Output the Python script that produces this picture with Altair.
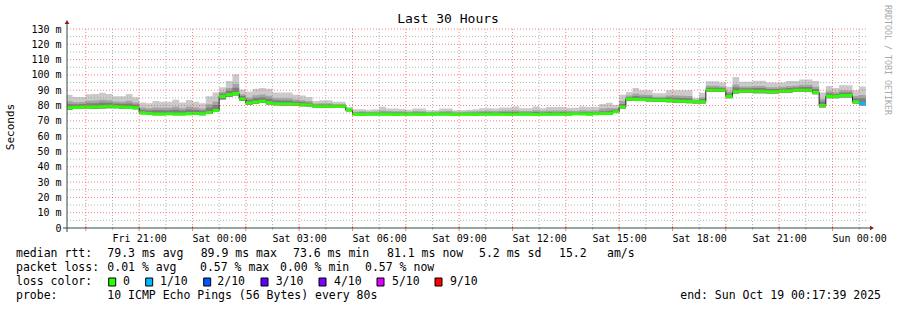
import altair as alt
import pandas as pd

MONO = "DejaVu Sans Mono"

# ---------------- data (15-minute steps, first step starts Fri 18:15) ----------------
median = [
    78.5, 78.8, 79.0, 79.0, 79.0, 79.3, 79.5, 79.3, 79.0, 78.8, 78.5,
    75.3, 74.8, 74.5, 74.5, 74.6, 74.5, 74.5, 74.7, 74.8, 74.6, 75.5, 76.8,
    86.0, 87.0, 87.8, 84.3, 81.6, 82.3, 82.8, 81.8, 81.2, 81.0, 81.0, 80.8, 80.5, 80.3, 79.6, 79.5, 79.5, 79.4, 79.5, 77.0,
    74.3, 74.2, 74.3, 74.3, 74.4, 74.3, 74.2, 74.3, 74.3, 74.3, 74.2, 74.3, 74.4, 74.3, 74.3, 74.2, 74.3, 74.3, 74.2, 74.3,
    74.3, 74.4, 74.3, 74.2, 74.3, 74.4, 74.3, 74.2, 74.3, 74.3, 74.4, 74.3, 74.4, 74.6, 74.5, 74.4, 74.6, 74.8, 74.9, 76.0,
    79.0,
    84.2, 84.0, 84.0, 83.8, 83.5, 83.5, 83.2, 83.0, 82.8, 82.6, 82.5, 82.5,
    90.0, 90.0, 90.0, 86.0, 89.0, 89.5, 89.5, 89.3, 89.3, 89.0, 89.0, 89.5, 89.5, 90.0, 90.0, 90.0, 88.5, 80.0,
    86.0, 86.0, 86.5, 86.5, 82.5, 81.3,
]
ping_min = [
    77.3, 77.8, 78.0, 78.0, 77.8, 78.0, 78.3, 78.2, 77.9, 77.7, 77.5,
    74.3, 73.9, 73.6, 73.7, 73.8, 73.7, 73.6, 73.8, 73.9, 73.7, 74.5, 75.8,
    84.0, 85.5, 86.5, 83.0, 80.5, 81.2, 81.6, 80.7, 80.2, 80.0, 80.0, 79.8, 79.5, 79.3, 78.7, 78.6, 78.6, 78.5, 78.6, 76.2,
    73.6, 73.5, 73.6, 73.6, 73.7, 73.6, 73.5, 73.6, 73.6, 73.6, 73.5, 73.6, 73.7, 73.6, 73.6, 73.5, 73.6, 73.6, 73.5, 73.6,
    73.6, 73.7, 73.6, 73.5, 73.6, 73.7, 73.6, 73.5, 73.6, 73.6, 73.7, 73.6, 73.7, 73.9, 73.8, 73.7, 73.9, 74.1, 74.2, 75.2,
    78.0,
    83.0, 82.9, 82.9, 82.7, 82.4, 82.4, 82.1, 81.9, 81.7, 81.5, 81.4, 81.4,
    88.8, 88.8, 88.8, 84.8, 87.8, 88.3, 88.3, 88.1, 88.1, 87.8, 87.8, 88.3, 88.3, 88.8, 88.8, 88.8, 87.3, 78.8,
    84.8, 84.8, 85.3, 85.3, 81.3, 80.0,
]
ping_p8 = [
    81.0, 80.8, 81.0, 81.5, 81.5, 82.0, 81.9, 81.3, 81.1, 81.4, 80.6,
    77.3, 76.8, 77.1, 76.9, 77.0, 77.3, 76.8, 77.4, 77.1, 76.7, 78.7, 80.3,
    87.8, 89.7, 91.6, 86.2, 83.8, 84.9, 85.4, 84.6, 83.4, 83.3, 83.3, 82.7, 82.3, 81.9, 80.6, 80.7, 80.7, 80.3, 80.4, 77.6,
    75.3, 75.4, 75.3, 75.3, 75.6, 75.5, 75.4, 75.4, 75.3, 75.5, 75.4, 75.2, 75.2, 75.5, 75.5, 75.2, 75.2, 75.3, 75.3, 75.6,
    75.6, 75.5, 75.7, 75.6, 75.8, 75.5, 75.5, 75.8, 75.5, 75.7, 75.6, 75.7, 75.6, 75.5, 75.8, 75.7, 75.8, 76.3, 76.6, 77.2,
    81.0,
    85.6, 86.2, 85.8, 85.7, 84.9, 84.9, 85.2, 85.1, 85.0, 84.8, 83.3, 84.2,
    91.7, 91.7, 91.5, 87.9, 91.9, 91.3, 91.3, 91.4, 91.4, 90.8, 90.8, 91.2, 91.5, 91.8, 92.1, 92.1, 90.8, 82.6,
    88.0, 87.6, 88.5, 88.5, 84.8, 84.7,
]
ping_p9 = [
    82.8, 82.2, 82.3, 83.2, 83.3, 83.8, 83.5, 82.7, 82.5, 83.2, 82.0,
    78.7, 78.2, 78.8, 78.5, 78.6, 79.2, 78.3, 79.2, 78.7, 78.1, 80.8, 82.7,
    89.0, 91.5, 94.2, 87.4, 85.3, 86.7, 87.2, 86.4, 84.9, 84.8, 84.8, 83.9, 83.5, 82.9, 81.3, 81.5, 81.5, 81.0, 81.0, 78.0,
    76.0, 76.2, 76.0, 76.1, 76.8, 76.4, 76.3, 76.2, 76.0, 76.4, 76.3, 75.8, 75.9, 76.3, 76.4, 75.9, 75.9, 76.1, 76.2, 76.5,
    76.6, 76.4, 76.8, 76.7, 77.0, 76.5, 76.5, 77.0, 76.5, 76.8, 76.7, 76.8, 76.6, 76.5, 77.0, 76.8, 76.9, 78.0, 78.4, 78.2,
    83.0,
    86.5, 87.7, 87.0, 86.9, 85.8, 85.8, 86.6, 86.5, 86.4, 86.3, 83.8, 85.4,
    92.9, 92.9, 92.5, 89.1, 93.8, 92.5, 92.5, 92.8, 92.8, 92.0, 92.0, 92.3, 92.8, 93.0, 93.5, 93.5, 92.3, 84.3,
    89.4, 88.7, 89.9, 89.9, 86.3, 86.9,
]
ping_max = [
    87.0, 85.5, 85.5, 87.3, 87.5, 88.3, 87.5, 86.0, 86.0, 87.5, 85.4,
    82.0, 81.5, 83.0, 82.5, 82.5, 83.8, 82.0, 83.6, 82.5, 81.5, 86.0, 88.5,
    92.0, 96.0, 100.5, 90.5, 89.0, 91.0, 91.5, 91.0, 88.5, 88.5, 88.5, 87.0, 86.5, 85.5, 83.0, 83.5, 83.5, 82.5, 82.5, 79.0,
    77.5, 77.5, 77.3, 77.5, 79.2, 78.0, 78.0, 77.8, 77.3, 78.0, 78.0, 76.9, 77.0, 78.0, 78.0, 77.0, 77.0, 77.3, 77.5, 78.3,
    78.3, 78.0, 78.7, 78.7, 79.4, 78.3, 78.3, 79.4, 78.3, 79.0, 79.0, 79.0, 78.5, 78.5, 79.4, 79.0, 79.0, 81.0, 81.9, 80.3,
    87.0,
    88.8, 91.4, 90.0, 90.0, 88.0, 88.0, 90.0, 90.0, 90.0, 90.0, 85.0, 88.3,
    95.8, 95.8, 95.0, 92.2, 98.6, 95.5, 95.5, 96.2, 96.2, 95.0, 95.0, 95.0, 96.0, 96.0, 97.0, 97.0, 96.0, 88.5,
    92.8, 91.4, 93.3, 93.3, 90.0, 92.5,
]
loss = [0] * 119 + [1]

N = len(median)
for arr in (ping_min, ping_p8, ping_p9, ping_max, loss):
    assert len(arr) == N, len(arr)

START_H = 18.25          # Fri 18:15, hours since Fri 00:00
STEP_H = 0.25            # 15 minutes
VIEW_START = 18 + 17 / 60 + 39 / 3600   # Fri 18:17:39
VIEW_END = VIEW_START + 30

loss_levels = [0, 1, 2, 3, 4, 5, 9]
loss_labels = ["0", "1/10", "2/10", "3/10", "4/10", "5/10", "9/10"]
loss_colors = ["#26ff00", "#00b8ff", "#0059ff", "#5e00ff", "#7e00ff", "#dd00ff", "#ff0000"]

x_label_hours = list(range(21, 49, 3))
y_label_values = list(range(0, 131, 10))

rows = []
for i in range(N):
    rows.append(dict(h=START_H + STEP_H * i, h_end=START_H + STEP_H * (i + 1),
                     med=median[i], pmin=ping_min[i], p8=ping_p8[i], p9=ping_p9[i],
                     pmax=ping_max[i], loss=loss[i]))
steps = pd.DataFrame(rows)
last = dict(rows[-1])
last["h"] = last["h_end"]
curve = pd.DataFrame(rows + [last])

# ---------------- scales / axes ----------------
W, H = 800, 199
XS = alt.Scale(domain=[VIEW_START, VIEW_END], nice=False, zero=False)
YS = alt.Scale(domain=[0, 130], nice=False, zero=True)

XAXIS = alt.Axis(values=x_label_hours, title=None, grid=False, domain=False, ticks=False,
                 tickSize=0, labelPadding=5, labelFont=MONO, labelFontSize=10,
                 labelColor="#000000", labelFlush=False, labelOverlap=False, labelBound=False,
                 labelExpr="(datum.value < 24 ? 'Fri' : (datum.value < 48 ? 'Sat' : 'Sun')) + ' ' + "
                           "((datum.value % 24) < 10 ? '0' : '') + (datum.value % 24) + ':00'")
YAXIS = alt.Axis(values=y_label_values, title=None, grid=False, domain=False, ticks=False,
                 tickSize=0, labelPadding=6, labelFont=MONO, labelFontSize=10,
                 labelColor="#000000", labelFlush=False, labelOverlap=False, labelBound=False,
                 labelExpr="datum.value == 0 ? '0\u00a0\u00a0' : datum.value + ' m'")


def X(field):
    return alt.X(field, type="quantitative", scale=XS, axis=XAXIS)


def Y(field):
    return alt.Y(field, type="quantitative", scale=YS, axis=YAXIS)


layers = []
base = alt.Chart(curve)

# smoke
for top, col in (("pmax", "#cacaca"), ("p9", "#a4a4a4"), ("p8", "#7e7e7e")):
    layers.append(base.mark_area(interpolate="step-after", color=col, clip=True)
                  .encode(x=X("h"), y=Y(top), y2=alt.Y2("pmin")))

# median line
layers.append(base.mark_line(interpolate="step-after", color="#202020", strokeWidth=1, clip=True)
              .encode(x=X("h"), y=Y("med")))
# median loss-colour band
layers.append(base.transform_calculate(lo="datum.med - 1", hi="datum.med + 1")
              .mark_area(interpolate="step-after", color=loss_colors[0], clip=True)
              .encode(x=X("h"), y=Y("hi:Q"), y2=alt.Y2("lo:Q")))
layers.append(alt.Chart(steps).transform_filter("datum.loss > 0")
              .transform_calculate(lo="datum.med - 1", hi="datum.med + 1")
              .mark_rect(clip=True)
              .encode(x=X("h"), x2=alt.X2("h_end"), y=Y("hi:Q"), y2=alt.Y2("lo:Q"),
                      color=alt.Color("loss:N", scale=alt.Scale(domain=loss_levels, range=loss_colors),
                                      legend=None)))

# grid (drawn on top, like rrdtool)
hours_all = list(range(19, 49))
minor_x = pd.DataFrame({"gx": [h for h in hours_all if h % 2 == 0]})
major_x = pd.DataFrame({"gx": [h for h in hours_all if h % 2 == 1]})
minor_y = pd.DataFrame({"gy": list(range(5, 131, 10))})
major_y = pd.DataFrame({"gy": list(range(10, 131, 10))})
GRAY = dict(color="#9a9a9a", opacity=0.75, strokeDash=[1, 2], strokeWidth=1)
RED = dict(color="#ff4a4a", opacity=0.7, strokeDash=[1, 2], strokeWidth=1)
layers.append(alt.Chart(minor_x).mark_rule(**GRAY).encode(x=X("gx"), y=alt.value(0), y2=alt.value(H)))
layers.append(alt.Chart(minor_y).mark_rule(**GRAY).encode(y=Y("gy"), x=alt.value(0), x2=alt.value(W)))
layers.append(alt.Chart(major_x).mark_rule(**RED).encode(x=X("gx"), y=alt.value(0), y2=alt.value(H)))
layers.append(alt.Chart(major_y).mark_rule(**RED).encode(y=Y("gy"), x=alt.value(0), x2=alt.value(W)))

# small ticks under the time axis
layers.append(alt.Chart(minor_x).mark_rule(color="#a0a0a0", opacity=0.6)
              .encode(x=X("gx"), y=alt.value(H - 1), y2=alt.value(H + 2)))
layers.append(alt.Chart(major_x).mark_rule(color="#ff3030", opacity=0.6)
              .encode(x=X("gx"), y=alt.value(H - 2), y2=alt.value(H + 3)))

one = pd.DataFrame({"k": [0]})
AXC = "#2c4d43"
layers.append(alt.Chart(one).mark_rule(color=AXC, strokeWidth=1)
              .encode(x=alt.value(0), y=alt.value(-6), y2=alt.value(H + 4)))
layers.append(alt.Chart(one).mark_rule(color=AXC, strokeWidth=1)
              .encode(y=alt.value(H), x=alt.value(-4), x2=alt.value(W + 3)))
layers.append(alt.Chart(one).mark_point(shape="triangle-up", filled=True, size=22, color="#8b1a1a", opacity=1)
              .encode(x=alt.value(0), y=alt.value(-7)))
layers.append(alt.Chart(one).mark_point(shape="triangle-right", filled=True, size=22, color="#8b1a1a", opacity=1)
              .encode(x=alt.value(W + 5), y=alt.value(H)))

OX, OY = 67, 29  # plot origin inside the 897x310 page


def txt(s, x, y, size, align="left", angle=0, color="#000000"):
    return (alt.Chart(one)
            .mark_text(text=s, align=align, baseline="middle", font=MONO, fontSize=size,
                       color=color, angle=angle)
            .encode(x=alt.value(x - OX), y=alt.value(y - OY)))


layers.append(txt("Last 30 Hours", 448, 19, 13, align="center"))
layers.append(txt("Seconds", 11, 127, 11, align="center", angle=270))
layers.append(txt("RRDTOOL / TOBI OETIKER", 887, 60, 8.3, align="center", angle=90, color="#a8a8a8"))

LEG = 11.5
R1, R2, R3, R4 = 254.3, 268.3, 282.0, 296.0
row1 = [("median rtt:", 16), ("79.3 ms avg", 107.3), ("89.9 ms max", 200.7), ("73.6 ms min", 293),
        ("81.1 ms now", 387), ("5.2 ms sd", 479), ("15.2", 559), ("am/s", 607)]
row2 = [("packet loss:", 16), ("0.01 % avg", 107.3), ("0.57 % max", 200), ("0.00 % min", 280),
        ("0.57 % now", 365)]
for s, x in row1:
    layers.append(txt(s, x, R1, LEG))
for s, x in row2:
    layers.append(txt(s, x, R2, LEG))
layers.append(txt("loss color:", 16, R3, LEG))
SQ_X = [108.7, 145.7, 203.7, 261.0, 319.0, 377.0, 435.0]
LB_X = [123.0, 160.0, 217.3, 275.7, 334.0, 392.0, 450.0]
for lab, col, sx, lx in zip(loss_labels, loss_colors, SQ_X, LB_X):
    layers.append(alt.Chart(one).mark_rect(color=col, stroke="#000000", strokeWidth=1)
                  .encode(x=alt.value(sx - OX), x2=alt.value(sx + 7 - OX),
                          y=alt.value(R3 - 4 - OY), y2=alt.value(R3 + 4 - OY)))
    layers.append(txt(lab, lx, R3, LEG))
layers.append(txt("probe:", 16, R4, LEG))
layers.append(txt("10 ICMP Echo Pings (56 Bytes) every 80s", 107.3, R4, LEG))
layers.append(txt("end: Sun Oct 19 00:17:39 2025", 881, R4, LEG, align="right"))

chart = (alt.layer(*layers)
         .properties(width=W, height=H,
                     padding={"left": OX, "top": OY, "right": 897 - OX - W, "bottom": 310 - OY - H},
                     autosize=alt.AutoSizeParams(type="none"),
                     background="#ffffff")
         .configure_view(strokeWidth=0))

chart.save("out.html", embed_options={"renderer": "svg", "actions": False})
